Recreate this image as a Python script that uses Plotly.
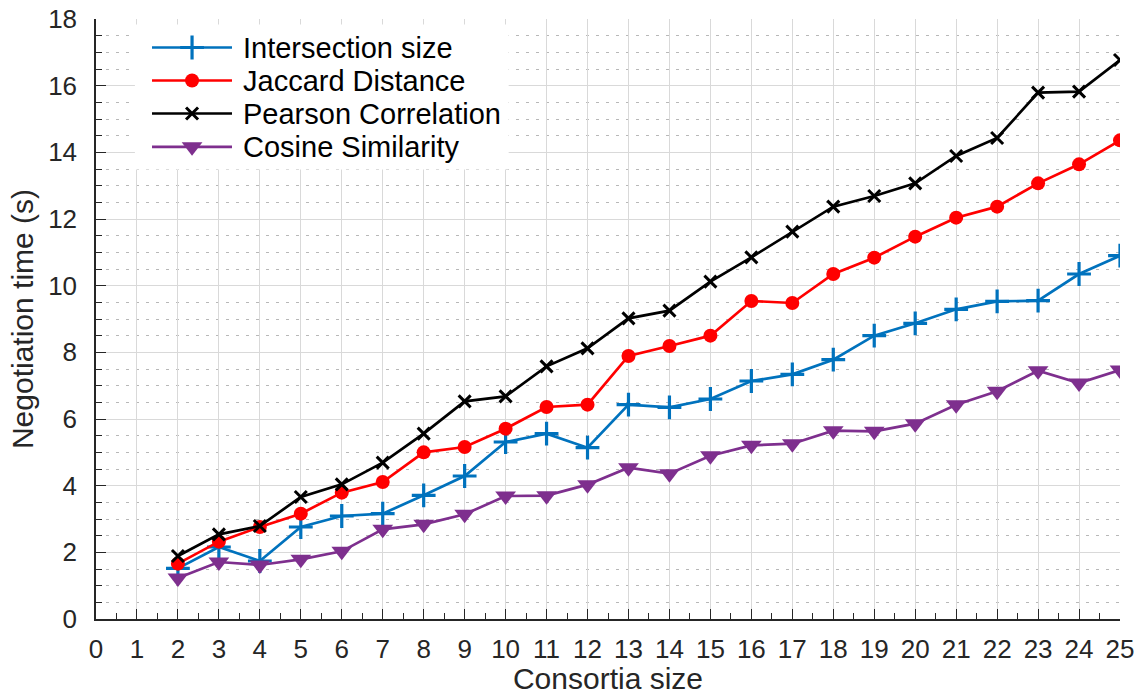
import plotly.graph_objects as go

# Consortia sizes on the x axis
consortia_size = list(range(2, 26))

# Negotiation time (s) per similarity measure
intersection_size = [1.52, 2.16, 1.74, 2.76, 3.09, 3.16, 3.71, 4.29, 5.31, 5.56, 5.14, 6.43,
                     6.35, 6.60, 7.14, 7.34, 7.78, 8.50, 8.87, 9.29, 9.53, 9.55, 10.35, 10.90]
jaccard_distance = [1.66, 2.32, 2.76, 3.16, 3.79, 4.11, 5.00, 5.16, 5.71, 6.36, 6.43, 7.89,
                    8.19, 8.50, 9.54, 9.48, 10.35, 10.84, 11.47, 12.04, 12.37, 13.07, 13.64, 14.36]
pearson_correlation = [1.89, 2.54, 2.79, 3.66, 4.04, 4.69, 5.56, 6.53, 6.68, 7.58, 8.12, 9.02,
                       9.25, 10.12, 10.85, 11.62, 12.37, 12.69, 13.07, 13.89, 14.43, 15.79, 15.82, 16.77]
cosine_similarity = [1.23, 1.71, 1.62, 1.79, 2.03, 2.69, 2.84, 3.14, 3.69, 3.70, 4.03, 4.54,
                     4.36, 4.90, 5.21, 5.26, 5.65, 5.63, 5.86, 6.43, 6.83, 7.45, 7.08, 7.47]

series_names = ["Intersection size", "Jaccard Distance", "Pearson Correlation", "Cosine Similarity"]
series_values = [intersection_size, jaccard_distance, pearson_correlation, cosine_similarity]

x_tick_values = list(range(0, 26))
y_tick_values = list(range(0, 19, 2))

FONT = "Liberation Sans, Arial, Helvetica, sans-serif"
TEXT_COLOR = "#262626"

styles = [
    dict(color="#0072BD", symbol="cross-thin", size=17, mline=3.2),
    dict(color="#FF0000", symbol="circle", size=14, mline=0),
    dict(color="#000000", symbol="x-thin", size=12, mline=3),
    dict(color="#7E2F8E", symbol="triangle-down", size=18, mline=0),
]

fig = go.Figure()

for name, values, st in zip(series_names, series_values, styles):
    fig.add_trace(go.Scatter(
        x=consortia_size, y=values, name=name, mode="lines+markers",
        line=dict(color=st["color"], width=2.7),
        marker=dict(symbol=st["symbol"], size=st["size"], color=st["color"],
                    line=dict(color=st["color"], width=st["mline"])),
        showlegend=False,
    ))

# Legend drawn on an overlay axis spanning the plot area in fractional units
box_x = [0.038, 0.403]
box_y = [0.749, 0.991]
fig.add_trace(go.Scatter(
    x=[box_x[0], box_x[1], box_x[1], box_x[0], box_x[0]],
    y=[box_y[0], box_y[0], box_y[1], box_y[1], box_y[0]],
    mode="lines", fill="toself", fillcolor="white", line=dict(width=0, color="white"),
    xaxis="x2", yaxis="y2", hoverinfo="skip", showlegend=False,
))

row_y = [0.9525, 0.8975, 0.8425, 0.7870]
line_x = [0.0547, 0.1328]
marker_x = 0.0938
text_x = 0.1416

for name, st, ry in zip(series_names, styles, row_y):
    fig.add_trace(go.Scatter(
        x=line_x, y=[ry, ry], mode="lines",
        line=dict(color=st["color"], width=2.7),
        xaxis="x2", yaxis="y2", hoverinfo="skip", showlegend=False,
    ))
    fig.add_trace(go.Scatter(
        x=[marker_x], y=[ry], mode="markers",
        marker=dict(symbol=st["symbol"], size=st["size"], color=st["color"],
                    line=dict(color=st["color"], width=st["mline"])),
        xaxis="x2", yaxis="y2", hoverinfo="skip", showlegend=False,
    ))
    fig.add_annotation(
        x=text_x, y=ry, xref="x2", yref="y2", text=name, showarrow=False,
        xanchor="left", yanchor="middle",
        font=dict(family=FONT, size=29, color="#000000"),
    )

fig.update_layout(
    width=1144, height=695,
    margin=dict(l=96, r=24, t=19, b=76),
    paper_bgcolor="white", plot_bgcolor="white",
    font=dict(family=FONT, color=TEXT_COLOR),
    showlegend=False,
    xaxis=dict(
        range=[0, 25], tickmode="array", tickvals=x_tick_values,
        ticktext=[str(v) for v in x_tick_values],
        tickfont=dict(size=26, color=TEXT_COLOR),
        ticks="inside", ticklen=10, tickwidth=1.2, tickcolor=TEXT_COLOR,
        showline=True, linecolor=TEXT_COLOR, linewidth=1.5,
        showgrid=True, gridcolor="#d9d9d9", gridwidth=1,
        zeroline=False,
        minor=dict(dtick=0.5, ticks="inside", ticklen=6, tickcolor=TEXT_COLOR, showgrid=False),
        title=dict(text="Consortia size", font=dict(size=30, color=TEXT_COLOR), standoff=6),
        ticklabelstandoff=6,
        automargin=False,
    ),
    yaxis=dict(
        range=[0, 18], tickmode="array", tickvals=y_tick_values,
        ticktext=[str(v) for v in y_tick_values],
        tickfont=dict(size=26, color=TEXT_COLOR),
        ticks="inside", ticklen=10, tickwidth=1.2, tickcolor=TEXT_COLOR,
        showline=True, linecolor=TEXT_COLOR, linewidth=1.5,
        showgrid=True, gridcolor="#d9d9d9", gridwidth=1,
        zeroline=False,
        minor=dict(dtick=0.5, ticks="inside", ticklen=6, tickcolor=TEXT_COLOR,
                   showgrid=True, gridcolor="#b8b8b8", gridwidth=1, griddash="3px,7px"),
        title=dict(text="Negotiation time (s)", font=dict(size=30, color=TEXT_COLOR), standoff=6),
        ticklabelstandoff=12,
        automargin=False,
    ),
    xaxis2=dict(overlaying="x", range=[0, 1], visible=False, fixedrange=True),
    yaxis2=dict(overlaying="y", range=[0, 1], visible=False, fixedrange=True),
)

fig.write_html("out.html")
